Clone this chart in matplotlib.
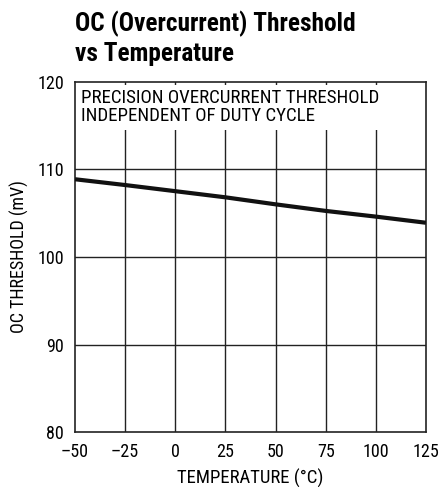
import numpy as np
import matplotlib
matplotlib.use("Agg")
import matplotlib.pyplot as plt
from matplotlib.patches import Rectangle

plt.rcParams['font.family'] = ['Roboto Condensed', 'DejaVu Sans']

# data
temp = [-50, -25, 0, 25, 50, 75, 100, 125]
threshold = [108.86, 108.2, 107.5, 106.8, 106.0, 105.25, 104.6, 103.9]

x_ticks = [-50, -25, 0, 25, 50, 75, 100, 125]
x_labels = ['\u201350', '\u201325', '0', '25', '50', '75', '100', '125']
y_ticks = [80, 90, 100, 110, 120]

fig = plt.figure(figsize=(4.4, 4.87), dpi=100)
ax = fig.add_axes([0.1705, 0.1123, 0.7975, 0.7202])

ax.set_xlim(-50, 125)
ax.set_ylim(80, 120)
ax.set_xticks(x_ticks)
ax.set_xticklabels(x_labels)
ax.set_yticks(y_ticks)

# grid
for xv in x_ticks[1:-1]:
    ax.axvline(xv, color='#222222', lw=1.0, zorder=1)
for yv in y_ticks[1:-1]:
    ax.axhline(yv, color='#222222', lw=1.0, zorder=1)

# white box behind the note
ax.add_patch(Rectangle((0, 0.862), 1, 0.127, transform=ax.transAxes,
                       facecolor='white', edgecolor='none', zorder=1.5))
ax.text(0.018, 0.98, 'PRECISION OVERCURRENT THRESHOLD\nINDEPENDENT OF DUTY CYCLE',
        transform=ax.transAxes, ha='left', va='top', fontsize=13.6,
        linespacing=1.0, zorder=2)

ax.plot(temp, threshold, color='#111111', lw=3, solid_capstyle='butt', zorder=3)

for s in ax.spines.values():
    s.set_linewidth(1.2)
    s.set_color('#222222')
ax.tick_params(axis='both', length=0, labelsize=13)
ax.tick_params(axis='x', pad=8)
ax.tick_params(axis='y', pad=8)

ax.set_xlabel('TEMPERATURE (\u00b0C)', fontsize=13.5, labelpad=5)
ax.set_ylabel('OC THRESHOLD (mV)', fontsize=13, labelpad=6)

fig.text(0.1705, 0.978, 'OC (Overcurrent) Threshold\nvs Temperature',
         ha='left', va='top', fontsize=18.3, fontweight='bold', linespacing=1.25)

fig.savefig('out.png', dpi=100)
